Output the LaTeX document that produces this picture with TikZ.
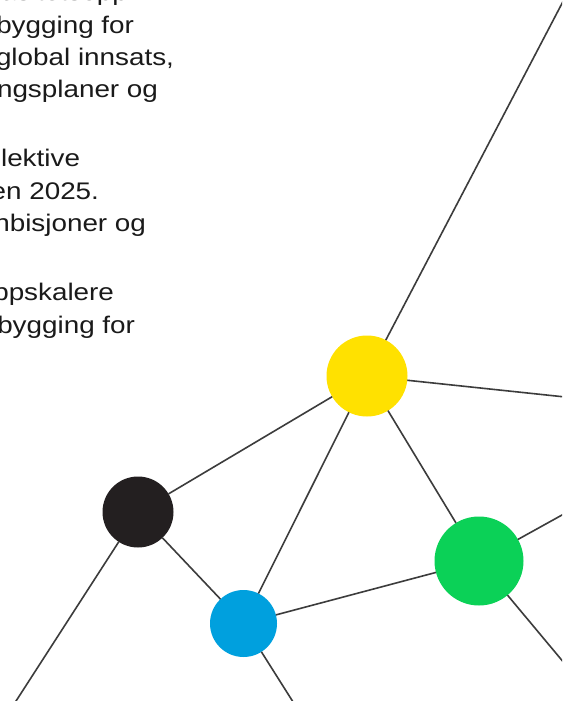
\documentclass[tikz,border=0pt]{standalone}
\usepackage{fontspec}
\setmainfont[FakeStretch=1.16]{Liberation Sans}
\definecolor{yel}{HTML}{FFE100}
\definecolor{blk}{HTML}{231F20}
\definecolor{blu}{HTML}{00A0DE}
\definecolor{grn}{HTML}{0BD157}
\definecolor{linec}{HTML}{3C3C3C}
\definecolor{textc}{HTML}{1A1A1A}
\begin{document}
\begin{tikzpicture}[x=1pt,y=-1pt,
  txt/.style={anchor=base east, inner sep=0pt, outer sep=0pt, text=textc, font=\fontsize{24}{32}\selectfont},
  link/.style={draw=linec, line width=1.6pt},
  dot/.style={circle, inner sep=0pt, outer sep=0pt, draw=none}]
\useasboundingbox (0,0) rectangle (562,701);
\clip (0,0) rectangle (562,701);
\fill[white] (0,0) rectangle (562,701);
% text fragments (clipped at the left edge)
\node[txt] (t0) at (128,1) {støtte opp om kapasitetsopp};
\node[txt] (t1) at (134,33.3) {bygging for};
\node[txt] (t2) at (174,65.3) {global innsats,};
\node[txt] (t3) at (158,97.5) {ngsplaner og};
\node[txt] (t4) at (80,166.7) {lektive};
\node[txt] (t5) at (99,199.3) {en 2025.};
\node[txt] (t6) at (146,231.7) {nbisjoner og};
\node[txt] (t7) at (114,300.5) {oppskalere};
\node[txt] (t8) at (135,333) {bygging for};
% network nodes
\node[dot, fill=yel, minimum size=81pt] (Y) at (367,376) {};
\node[dot, fill=blk, minimum size=71pt] (K) at (138,512) {};
\node[dot, fill=blu, minimum size=67pt] (B) at (243.5,623.5) {};
\node[dot, fill=grn, minimum size=89pt] (G) at (479,561) {};
% free ends beyond the frame
\coordinate (eTR) at (569,-10);
\coordinate (eR) at (570,397.5);
\coordinate (eGR) at (575,507.8);
\coordinate (eGB) at (575,676);
\coordinate (eKB) at (7,715);
\coordinate (eBB) at (301.3,715);
% connectors
\draw[link] (Y) -- (eTR);
\draw[link] (Y) -- (eR);
\draw[link] (Y) -- (K);
\draw[link] (Y) -- (B);
\draw[link] (Y) -- (G);
\draw[link] (K) -- (B);
\draw[link] (K) -- (eKB);
\draw[link] (B) -- (G);
\draw[link] (B) -- (eBB);
\draw[link] (G) -- (eGR);
\draw[link] (G) -- (eGB);
\end{tikzpicture}
\end{document}
